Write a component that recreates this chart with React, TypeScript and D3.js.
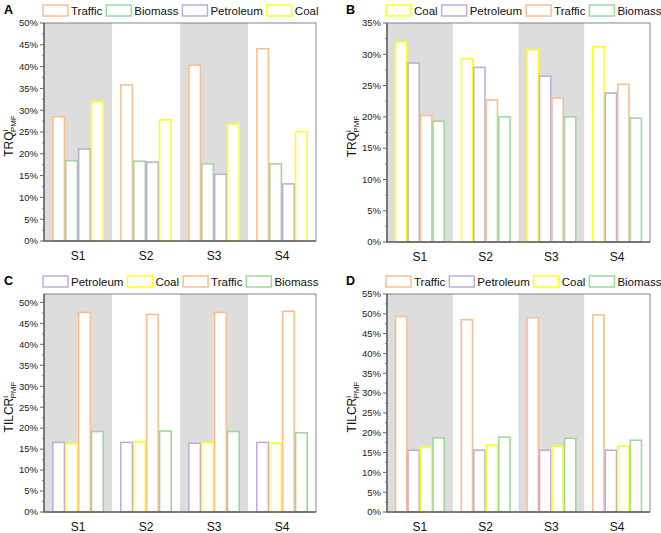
import React, { useEffect, useRef } from 'react';
import * as d3 from 'd3';

const sites = ['S1', 'S2', 'S3', 'S4'];

// panel A - TRQ
const aOrder = ['Traffic', 'Biomass', 'Petroleum', 'Coal'];
const aTraffic = [28.5, 35.8, 40.3, 44.1];
const aBiomass = [18.4, 18.3, 17.7, 17.7];
const aPetroleum = [21.1, 18.1, 15.3, 13.1];
const aCoal = [32.0, 27.8, 26.8, 25.1];

// panel B - TRQ
const bOrder = ['Coal', 'Petroleum', 'Traffic', 'Biomass'];
const bCoal = [32.0, 29.3, 30.7, 31.2];
const bPetroleum = [28.6, 27.9, 26.5, 23.8];
const bTraffic = [20.2, 22.7, 23.0, 25.2];
const bBiomass = [19.3, 20.0, 20.0, 19.8];

// panel C - TILCR
const cOrder = ['Petroleum', 'Coal', 'Traffic', 'Biomass'];
const cPetroleum = [16.6, 16.6, 16.4, 16.6];
const cCoal = [16.3, 16.8, 16.6, 16.4];
const cTraffic = [47.6, 47.1, 47.6, 47.9];
const cBiomass = [19.2, 19.3, 19.2, 18.9];

// panel D - TILCR
const dOrder = ['Traffic', 'Petroleum', 'Coal', 'Biomass'];
const dTraffic = [49.3, 48.5, 49.0, 49.7];
const dPetroleum = [15.6, 15.6, 15.6, 15.6];
const dCoal = [16.3, 16.9, 16.6, 16.6];
const dBiomass = [18.7, 18.9, 18.6, 18.1];

const colors: Record<string, string> = {
    Traffic: '#f9bf91',
    Biomass: '#9fd89c',
    Petroleum: '#bdaedb',
    Coal: '#ffff1a',
};

const FONT = '"Liberation Sans", Arial, sans-serif';

const panels = [
    { letter: 'A', label: 'TRQ', order: aOrder, series: { Traffic: aTraffic, Biomass: aBiomass, Petroleum: aPetroleum, Coal: aCoal } as Record<string, number[]>, box: [44, 316, 23, 241], yMax: 50, tickMax: 50 },
    { letter: 'B', label: 'TRQ', order: bOrder, series: { Coal: bCoal, Petroleum: bPetroleum, Traffic: bTraffic, Biomass: bBiomass } as Record<string, number[]>, box: [387, 650, 23, 242], yMax: 35, tickMax: 35 },
    { letter: 'C', label: 'TILCR', order: cOrder, series: { Petroleum: cPetroleum, Coal: cCoal, Traffic: cTraffic, Biomass: cBiomass } as Record<string, number[]>, box: [44, 316, 294, 512], yMax: 52, tickMax: 50 },
    { letter: 'D', label: 'TILCR', order: dOrder, series: { Traffic: dTraffic, Petroleum: dPetroleum, Coal: dCoal, Biomass: dBiomass } as Record<string, number[]>, box: [387, 650, 294, 512], yMax: 55, tickMax: 55 },
];

const App: React.FC = () => {
    const svgRef = useRef<SVGSVGElement>(null);

    useEffect(() => {
        if (!svgRef.current) return;
        const svg = d3.select(svgRef.current);
        svg.selectAll('*').remove();

        panels.forEach(p => {
            const [left, right, top, bottom] = p.box;
            const g = svg.append('g');

            const x = d3.scaleBand<string>().domain(sites).range([left, right]);
            const bw = x.bandwidth();
            const inner = d3.scaleBand<string>().domain(p.order)
                .range([bw * 0.13, bw * 0.87]).paddingInner(0.1);
            const y = d3.scaleLinear().domain([0, p.yMax]).range([bottom, top]);

            // alternating gray bands
            g.selectAll('rect.band')
                .data(sites.filter((_, i) => i % 2 === 0))
                .join('rect')
                .attr('x', d => x(d)!)
                .attr('y', top)
                .attr('width', bw)
                .attr('height', bottom - top - 1)
                .attr('fill', '#dddddd');

            // bars
            p.order.forEach(name => {
                g.selectAll(null)
                    .data(p.series[name])
                    .join('rect')
                    .attr('x', (d, i) => x(sites[i])! + inner(name)!)
                    .attr('y', d => y(d))
                    .attr('width', inner.bandwidth())
                    .attr('height', d => y(0) - y(d))
                    .attr('fill', 'white')
                    .attr('stroke', colors[name])
                    .attr('stroke-width', 1.6);
            });

            // frame
            g.append('rect')
                .attr('x', left).attr('y', top)
                .attr('width', right - left).attr('height', bottom - top)
                .attr('fill', 'none').attr('stroke', '#666').attr('stroke-width', 0.8);

            // y axis
            const majors = d3.range(0, p.tickMax + 0.01, 5);
            const minors = d3.range(2.5, p.yMax, 5);
            g.selectAll(null).data(minors).join('line')
                .attr('x1', left - 2).attr('x2', left)
                .attr('y1', d => y(d)).attr('y2', d => y(d))
                .attr('stroke', '#666').attr('stroke-width', 0.8);
            g.selectAll(null).data(majors).join('line')
                .attr('x1', left - 4).attr('x2', left)
                .attr('y1', d => y(d)).attr('y2', d => y(d))
                .attr('stroke', '#666').attr('stroke-width', 1);
            g.selectAll(null).data(majors).join('text')
                .attr('x', left - 6)
                .attr('y', d => y(d))
                .attr('dy', '0.35em')
                .attr('text-anchor', 'end')
                .attr('font-family', FONT)
                .attr('font-size', 9.5)
                .attr('fill', '#222')
                .text(d => `${d}%`);
            g.append('line')
                .attr('x1', left).attr('x2', left).attr('y1', top).attr('y2', bottom)
                .attr('stroke', '#666').attr('stroke-width', 1.5);
            g.append('line')
                .attr('x1', left - 1).attr('x2', right).attr('y1', bottom).attr('y2', bottom)
                .attr('stroke', '#666').attr('stroke-width', 1.5);

            // x labels
            g.selectAll(null).data(sites).join('text')
                .attr('x', d => x(d)! + bw / 2)
                .attr('y', bottom + 19)
                .attr('text-anchor', 'middle')
                .attr('font-family', FONT)
                .attr('font-size', 12)
                .attr('fill', '#111')
                .text(d => d);

            // y label
            const yl = g.append('text')
                .attr('transform', `translate(${left - 31},${(top + bottom) / 2 + 4}) rotate(-90)`)
                .attr('text-anchor', 'middle')
                .attr('font-family', FONT)
                .attr('font-size', 12)
                .attr('fill', '#111');
            yl.append('tspan').text(p.label);
            yl.append('tspan').attr('font-size', 8).attr('dy', -5).text('i');
            yl.append('tspan').attr('font-size', 8).attr('dx', -2.5).attr('dy', 8).text('PMF');

            // panel letter
            g.append('text')
                .attr('x', p.letter === 'A' || p.letter === 'C' ? 4 : 346)
                .attr('y', top - 9)
                .attr('font-family', FONT)
                .attr('font-size', 12.5)
                .attr('font-weight', 'bold')
                .attr('fill', '#000')
                .text(p.letter);

            // legend
            let lx = left - 1;
            const ly = top - 12;
            p.order.forEach(name => {
                g.append('rect')
                    .attr('x', lx).attr('y', ly - 6)
                    .attr('width', 25).attr('height', 11)
                    .attr('fill', 'white')
                    .attr('stroke', colors[name]).attr('stroke-width', 1.5);
                const t = g.append('text')
                    .attr('x', lx + 28).attr('y', ly)
                    .attr('dy', '0.35em')
                    .attr('font-family', FONT)
                    .attr('font-size', 11.5)
                    .attr('fill', '#111')
                    .text(name);
                const w = (t.node() as SVGTextElement).getComputedTextLength();
                lx += 28 + w + 4;
            });
        });
    }, []);

    return (
        <svg ref={svgRef} width={661} height={533}
            style={{ position: 'absolute', left: 0, top: 0, background: 'white' }} />
    );
};

export default App;
